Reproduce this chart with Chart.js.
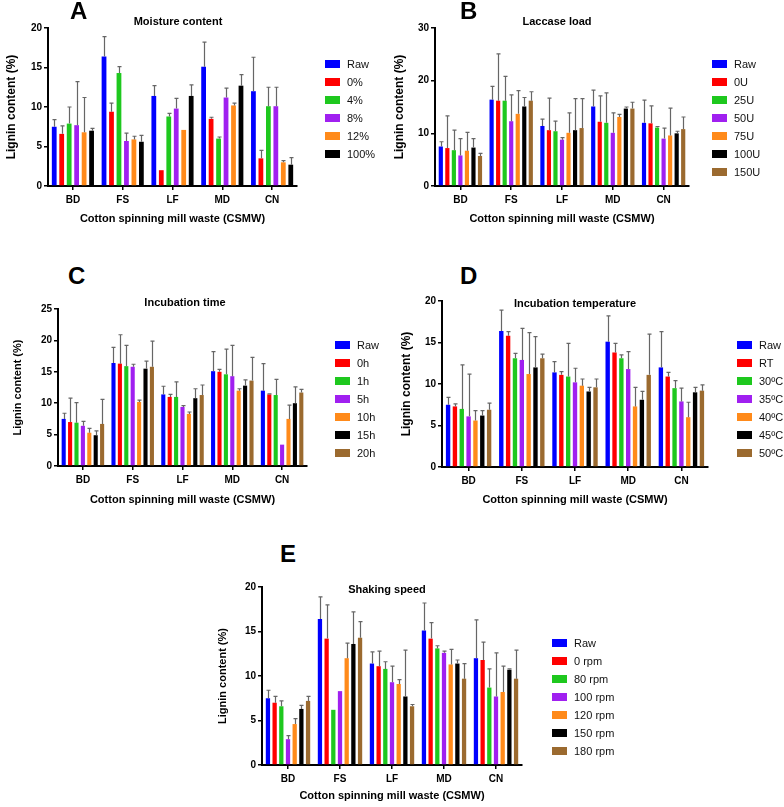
<!DOCTYPE html>
<html lang="en">
<head>
<meta charset="UTF-8">
<title>Lignin content of CSMW</title>
<script src="https://cdn.jsdelivr.net/npm/chart.js"></script>
<style>
  body { margin: 0; width: 784px; height: 807px; position: relative; background: #fff; overflow: hidden;
         font-family: Arial, "Liberation Sans", sans-serif; color: #000; }
  canvas { position: absolute; }
  .letter { position: absolute; font-size: 24px; font-weight: bold; line-height: 24px; color: #000; }
  .ttl { position: absolute; font-size: 11px; font-weight: bold; transform: translate(-50%, -50%); white-space: nowrap; color: #000; }
  .leg { position: absolute; font-size: 11px; color: #111; will-change: transform; -webkit-font-smoothing: antialiased; }
  .leg div { height: 18px; line-height: 18px; white-space: nowrap; color: #111; }
  .leg span { display: inline-block; width: 15px; height: 8px; margin-right: 7px; vertical-align: middle; position: relative; top: -1px; }
</style>
</head>
<body>
<script>
  // categories shared by every panel
  const groups = ['BD', 'FS', 'LF', 'MD', 'CN'];
  const seriesColors = ['#0000ff', '#ff0000', '#1ec81e', '#a020f0', '#ff8a1a', '#000000', '#9b6a2f'];

  const rawMean = [7.5, 16.4, 11.4, 15.1, 12.0];
  const rawErr  = [0.9, 2.5, 1.3, 3.1, 4.3];

  // A - moisture content
  const moistLabels = ['Raw', '0%', '4%', '8%', '12%', '100%'];
  const moistMean = [rawMean,
    [6.6, 9.4, 2.0, 8.5, 3.5],
    [7.9, 14.3, 8.8, 6.0, 10.1],
    [7.7, 5.7, 9.8, 11.2, 10.1],
    [6.8, 5.9, 7.1, 10.2, 3.0],
    [7.0, 5.6, 11.4, 12.7, 2.7]];
  const moistErr = [rawErr,
    [1.0, 1.1, 0, 0.2, 1.0],
    [2.1, 0.8, 0.4, 0.2, 2.4],
    [5.5, 1.0, 1.3, 1.2, 2.4],
    [4.4, 0.4, 0, 0.3, 0.2],
    [0.3, 0.8, 1.4, 1.4, 0.9]];

  // B - laccase load
  const laccLabels = ['Raw', '0U', '25U', '50U', '75U', '100U', '150U'];
  const laccMean = [rawMean,
    [7.2, 16.2, 10.6, 12.2, 11.9],
    [6.8, 16.2, 10.4, 12.0, 11.1],
    [5.8, 12.3, 8.8, 10.1, 9.0],
    [6.7, 13.7, 10.1, 13.1, 9.6],
    [7.3, 15.1, 10.6, 14.7, 10.0],
    [5.7, 16.2, 11.0, 14.7, 10.8]];
  const laccErr = [rawErr,
    [6.1, 8.9, 6.1, 4.9, 3.3],
    [3.8, 4.6, 1.9, 5.7, 0.2],
    [3.2, 5.0, 0.4, 3.8, 2.0],
    [3.5, 4.4, 3.8, 0.5, 5.2],
    [1.7, 1.7, 6.0, 0.3, 0.4],
    [0.5, 1.7, 5.6, 1.2, 2.3]];

  // C - incubation time
  const timeLabels = ['Raw', '0h', '1h', '5h', '10h', '15h', '20h'];
  const timeMean = [rawMean,
    [7.0, 16.3, 11.0, 15.0, 11.4],
    [6.9, 15.9, 11.0, 14.6, 11.3],
    [6.4, 15.8, 9.4, 14.3, 3.4],
    [5.3, 10.2, 8.3, 12.0, 7.5],
    [4.9, 15.5, 10.8, 12.8, 10.0],
    [6.7, 15.8, 11.3, 13.6, 11.7]];
  const timeErr = [rawErr,
    [3.8, 4.6, 0.4, 0.4, 0.1],
    [3.2, 3.3, 2.4, 4.0, 2.5],
    [0.7, 0.4, 0.2, 4.9, 0],
    [0.7, 0.3, 0.3, 0.3, 2.2],
    [0.7, 1.2, 1.5, 0.9, 2.6],
    [3.9, 4.1, 1.6, 3.7, 0.5]];

  // D - incubation temperature
  const tempLabels = ['Raw', 'RT', '30ºC', '35ºC', '40ºC', '45ºC', '50ºC'];
  const tempMean = [rawMean,
    [7.3, 15.8, 11.1, 13.8, 10.9],
    [7.0, 13.1, 10.9, 13.1, 9.5],
    [6.1, 12.9, 10.2, 11.8, 7.9],
    [5.6, 11.2, 9.8, 7.3, 6.0],
    [6.2, 12.0, 9.1, 8.1, 9.0],
    [6.9, 13.1, 9.6, 11.1, 9.2]];
  const tempErr = [rawErr,
    [0.3, 0.5, 0.4, 1.1, 0.5],
    [5.3, 0.6, 4.0, 0.4, 0.9],
    [5.1, 3.8, 1.7, 2.1, 1.6],
    [1.2, 5.0, 0.8, 2.3, 1.8],
    [0.6, 3.7, 0.5, 1.0, 0.6],
    [0.8, 0.5, 1.0, 4.9, 0.7]];

  // E - shaking speed
  const shakeLabels = ['Raw', '0 rpm', '80 rpm', '100 rpm', '120 rpm', '150 rpm', '180 rpm'];
  const shakeMean = [rawMean,
    [7.0, 14.2, 11.1, 14.2, 11.8],
    [6.6, 6.2, 10.8, 13.1, 8.7],
    [2.9, 8.3, 9.3, 12.6, 7.7],
    [4.6, 12.0, 9.1, 11.3, 8.2],
    [6.3, 13.6, 7.7, 11.4, 10.7],
    [7.2, 14.3, 6.6, 9.7, 9.7]];
  const shakeErr = [rawErr,
    [0.7, 3.8, 1.7, 1.8, 2.0],
    [0.6, 0, 0.8, 0.3, 2.1],
    [0.4, 0, 1.8, 0.2, 4.9],
    [0.6, 1.7, 0.5, 1.7, 2.9],
    [0.4, 3.6, 5.2, 0.4, 0.1],
    [0.5, 1.8, 0.2, 1.7, 3.2]];

  // upper error bars, positioned from the bars and the y scale
  const errorBars = {
    id: 'errorBars',
    afterDatasetsDraw(chart) {
      const ctx = chart.ctx;
      const y = chart.scales.y;
      chart.data.datasets.forEach((ds, i) => {
        chart.getDatasetMeta(i).data.forEach((bar, j) => {
          const e = ds.errors[j];
          if (!e) return;
          const top = y.getPixelForValue(ds.data[j] + e);
          const x = Math.round(bar.x) + 0.5;
          ctx.save();
          ctx.strokeStyle = '#666';
          ctx.lineWidth = 1.2;
          ctx.beginPath();
          ctx.moveTo(x, bar.y);
          ctx.lineTo(x, top);
          ctx.moveTo(x - 2, top);
          ctx.lineTo(x + 2, top);
          ctx.stroke();
          ctx.restore();
        });
      });
    }
  };

  const panels = [
    { letter: 'A', title: 'Moisture content', labels: moistLabels, mean: moistMean, err: moistErr, yMax: 20, yStep: 5,
      box: [0, 16, 312, 214], plot: [48, 28, 297, 186], ttl: [178, 21], let: [70, -1], leg: [325, 55], ySize: 12 },
    { letter: 'B', title: 'Laccase load', labels: laccLabels, mean: laccMean, err: laccErr, yMax: 30, yStep: 10,
      box: [388, 16, 312, 214], plot: [435, 28, 689, 186], ttl: [557, 21], let: [460, -1], leg: [712, 55], ySize: 12 },
    { letter: 'C', title: 'Incubation time', labels: timeLabels, mean: timeMean, err: timeErr, yMax: 25, yStep: 5,
      box: [7, 295, 310, 216], plot: [58, 309, 307, 466], ttl: [185, 302], let: [68, 264], leg: [335, 336], ySize: 11 },
    { letter: 'D', title: 'Incubation temperature', labels: tempLabels, mean: tempMean, err: tempErr, yMax: 20, yStep: 5,
      box: [395, 290, 320, 221], plot: [442, 301, 708, 467], ttl: [575, 303], let: [460, 264], leg: [737, 336], ySize: 12 },
    { letter: 'E', title: 'Shaking speed', labels: shakeLabels, mean: shakeMean, err: shakeErr, yMax: 20, yStep: 5,
      box: [212, 575, 320, 232], plot: [262, 587, 522, 765], ttl: [387, 589], let: [280, 542], leg: [552, 634], ySize: 11 }
  ];

  const font = 'Arial, "Liberation Sans", sans-serif';
  Chart.defaults.font.family = font;
  Chart.defaults.color = '#000';

  panels.forEach(p => {
    const [bx, by, bw, bh] = p.box;
    const [L, T, R, B] = p.plot;

    const cv = document.createElement('canvas');
    cv.width = bw; cv.height = bh;
    cv.style.left = bx + 'px'; cv.style.top = by + 'px';
    document.body.appendChild(cv);

    const letter = document.createElement('div');
    letter.className = 'letter';
    letter.textContent = p.letter;
    letter.style.left = p.let[0] + 'px'; letter.style.top = p.let[1] + 'px';
    document.body.appendChild(letter);

    const ttl = document.createElement('div');
    ttl.className = 'ttl';
    ttl.textContent = p.title;
    ttl.style.left = p.ttl[0] + 'px'; ttl.style.top = p.ttl[1] + 'px';
    document.body.appendChild(ttl);

    const leg = document.createElement('div');
    leg.className = 'leg';
    leg.style.left = p.leg[0] + 'px'; leg.style.top = p.leg[1] + 'px';
    p.labels.forEach((lab, i) => {
      const row = document.createElement('div');
      const sw = document.createElement('span');
      sw.style.background = seriesColors[i];
      row.appendChild(sw);
      row.appendChild(document.createTextNode(lab));
      leg.appendChild(row);
    });
    document.body.appendChild(leg);

    const datasets = p.labels.map((lab, i) => ({
      label: lab,
      data: p.mean[i],
      errors: p.err[i],
      backgroundColor: seriesColors[i],
      borderWidth: 0,
      barPercentage: 0.64,
      categoryPercentage: 0.9
    }));

    new Chart(cv, {
      type: 'bar',
      data: { labels: groups, datasets: datasets },
      options: {
        responsive: false,
        animation: false,
        layout: { padding: { left: 0, top: T - by, right: bx + bw - R, bottom: 0 } },
        plugins: { legend: { display: false }, tooltip: { enabled: false } },
        scales: {
          x: {
            afterFit: s => { s.height = by + bh - B; },
            grid: { drawOnChartArea: false, offset: false, tickLength: 4, color: '#000', lineWidth: 1.5 },
            border: { color: '#000', width: 2 },
            ticks: { font: { size: 10, weight: 'bold' }, padding: 4 },
            title: { display: true, text: 'Cotton spinning mill waste (CSMW)', font: { size: 11, weight: 'bold' } }
          },
          y: {
            min: 0, max: p.yMax,
            afterFit: s => { s.width = L - bx; },
            grid: { drawOnChartArea: false, tickLength: 4, color: '#000', lineWidth: 1.5 },
            border: { color: '#000', width: 2 },
            ticks: { stepSize: p.yStep, font: { size: 10, weight: 'bold' }, padding: 2 },
            title: { display: true, text: 'Lignin content (%)', font: { size: p.ySize, weight: 'bold' } }
          }
        }
      },
      plugins: [errorBars]
    });
  });
</script>
</body>
</html>
